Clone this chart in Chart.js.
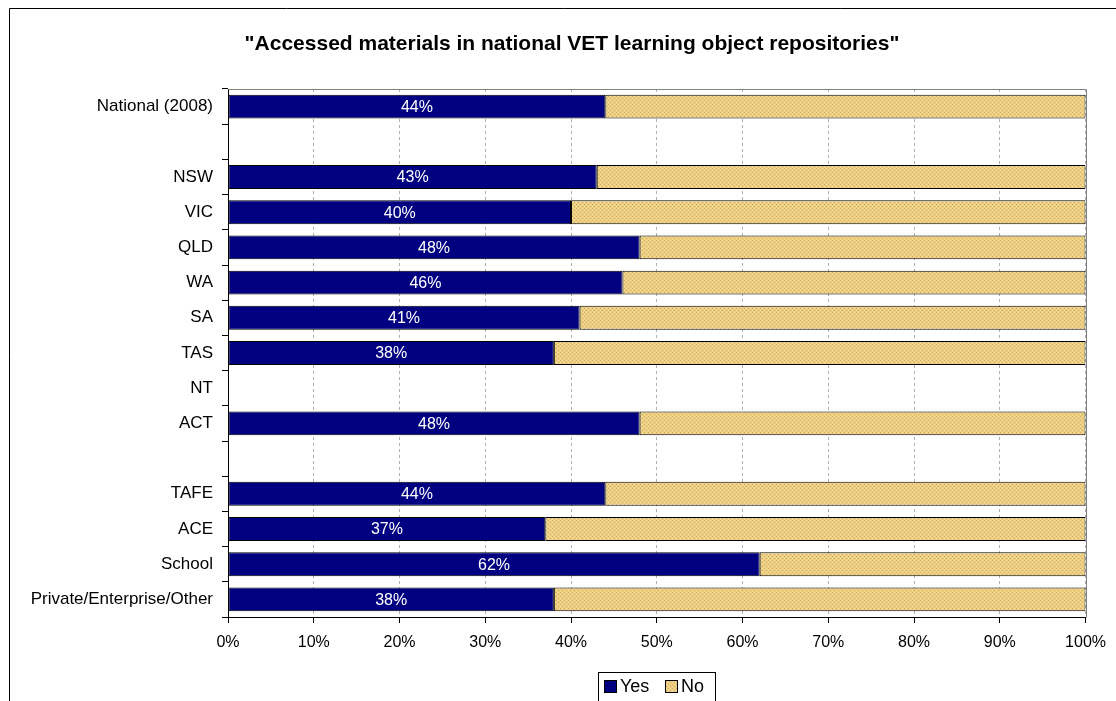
<!DOCTYPE html>
<html><head><meta charset="utf-8">
<script src="https://cdn.jsdelivr.net/npm/chart.js@4/dist/chart.umd.min.js"></script>
<style>html,body{margin:0;padding:0;background:#fff;overflow:hidden}</style>
</head><body>
<canvas id="c" width="1116" height="701" style="display:block;width:1116px;height:701px"></canvas>
<script>
const chartTitle = '"Accessed materials in national VET learning object repositories"';
const categories = ['National (2008)', '', 'NSW', 'VIC', 'QLD', 'WA', 'SA', 'TAS', 'NT', 'ACT', '', 'TAFE', 'ACE', 'School', 'Private/Enterprise/Other'];
const yesValues = [44, null, 43, 40, 48, 46, 41, 38, null, 48, null, 44, 37, 62, 38];
const noValues  = [56, null, 57, 60, 52, 54, 59, 62, null, 52, null, 56, 63, 38, 62];
const xTicks = [0, 10, 20, 30, 40, 50, 60, 70, 80, 90, 100];
const seriesNames = ['Yes', 'No'];

const FONT = "'Liberation Sans', Arial, sans-serif";
const YES_COLOR = '#000080';

function makePattern() {
  const c = document.createElement('canvas');
  c.width = 4; c.height = 4;
  const g = c.getContext('2d');
  g.fillStyle = '#EDCD80'; g.fillRect(0, 0, 4, 4);
  g.fillStyle = '#CFAE62'; g.fillRect(0, 0, 1, 1); g.fillRect(2, 2, 1, 1);
  g.fillStyle = '#F7E2A6'; g.fillRect(2, 0, 1, 1); g.fillRect(0, 2, 1, 1);
  return document.getElementById('c').getContext('2d').createPattern(c, 'repeat');
}
const NO_FILL = makePattern();

const decor = {
  id: 'decor',
  beforeDraw(chart) {
    const ctx = chart.ctx;
    ctx.save();
    ctx.fillStyle = '#fff';
    ctx.fillRect(0, 0, chart.width, chart.height);
    ctx.strokeStyle = '#000'; ctx.lineWidth = 1;
    ctx.beginPath();
    ctx.moveTo(9.5, chart.height + 2); ctx.lineTo(9.5, 8.5); ctx.lineTo(chart.width + 2, 8.5);
    ctx.stroke();
    ctx.fillStyle = '#000';
    ctx.font = 'bold 21px ' + FONT;
    ctx.textAlign = 'center'; ctx.textBaseline = 'alphabetic';
    ctx.fillText(chartTitle, 572, 50);
    ctx.restore();
  },
  beforeDatasetsDraw(chart) {
    const {ctx, chartArea: a} = chart;
    ctx.save();
    ctx.strokeStyle = '#808080'; ctx.lineWidth = 1;
    ctx.beginPath();
    ctx.moveTo(Math.round(a.left) + 0.5, Math.round(a.top) + 0.5);
    ctx.lineTo(Math.round(a.right) + 0.5, Math.round(a.top) + 0.5);
    ctx.lineTo(Math.round(a.right) + 0.5, Math.round(a.bottom) + 0.5);
    ctx.stroke();
    ctx.restore();
  },
  afterDatasetsDraw(chart) {
    const ctx = chart.ctx;
    const meta = chart.getDatasetMeta(0);
    ctx.save();
    ctx.fillStyle = '#fff';
    ctx.font = '16px ' + FONT;
    ctx.textAlign = 'center'; ctx.textBaseline = 'middle';
    meta.data.forEach((bar, i) => {
      const v = yesValues[i];
      if (v === null || v === undefined) return;
      ctx.fillText(v + '%', (bar.x + bar.base) / 2, bar.y + 1);
    });
    const lx = 598.5, ly = 672.5;
    ctx.strokeStyle = '#000'; ctx.lineWidth = 1;
    ctx.strokeRect(lx, ly, 117, 40);
    const items = [
      {name: seriesNames[0], fill: YES_COLOR, bx: 604, tx: 620},
      {name: seriesNames[1], fill: NO_FILL, bx: 665, tx: 681}
    ];
    ctx.font = '18px ' + FONT;
    ctx.textAlign = 'left'; ctx.textBaseline = 'middle';
    items.forEach(it => {
      ctx.fillStyle = it.fill;
      ctx.fillRect(it.bx, 680, 13, 13);
      ctx.strokeRect(it.bx + 0.5, 680.5, 12, 12);
      ctx.fillStyle = '#000';
      ctx.fillText(it.name, it.tx, 687);
    });
    ctx.restore();
  }
};

new Chart(document.getElementById('c'), {
  type: 'bar',
  data: {
    labels: categories,
    datasets: [
      {label: seriesNames[0], data: yesValues, backgroundColor: YES_COLOR, borderColor: '#000', borderWidth: 1, borderSkipped: false, barPercentage: 0.68, categoryPercentage: 1},
      {label: seriesNames[1], data: noValues, backgroundColor: NO_FILL, borderColor: '#000', borderWidth: 1, borderSkipped: false, barPercentage: 0.68, categoryPercentage: 1}
    ]
  },
  options: {
    indexAxis: 'y',
    responsive: false,
    animation: false,
    devicePixelRatio: 1,
    layout: {padding: {top: 89, right: 30, left: 0, bottom: 0}},
    plugins: {legend: {display: false}, title: {display: false}, tooltip: {enabled: false}},
    scales: {
      x: {
        stacked: true, min: 0, max: 100,
        afterBuildTicks: s => { s.ticks = xTicks.map(v => ({value: v})); },
        afterFit: s => { s.height = 84; },
        grid: {display: true, drawOnChartArea: true, color: '#B0B0B0', lineWidth: 1, drawTicks: true, tickLength: 6, tickColor: '#000', tickBorderDash: []},
        border: {display: true, color: '#000', width: 1, dash: [3, 3]},
        ticks: {color: '#000', font: {family: FONT, size: 16}, padding: 10, maxRotation: 0, callback: v => v + '%'}
      },
      y: {
        stacked: true,
        afterFit: s => { s.width = 228; },
        grid: {display: true, drawOnChartArea: false, offset: true, drawTicks: true, tickLength: 6, tickColor: '#000', color: '#000'},
        border: {display: true, color: '#000', width: 1},
        ticks: {color: '#000', font: {family: FONT, size: 17}, padding: 9, autoSkip: false}
      }
    }
  },
  plugins: [decor]
});
</script>
</body></html>
